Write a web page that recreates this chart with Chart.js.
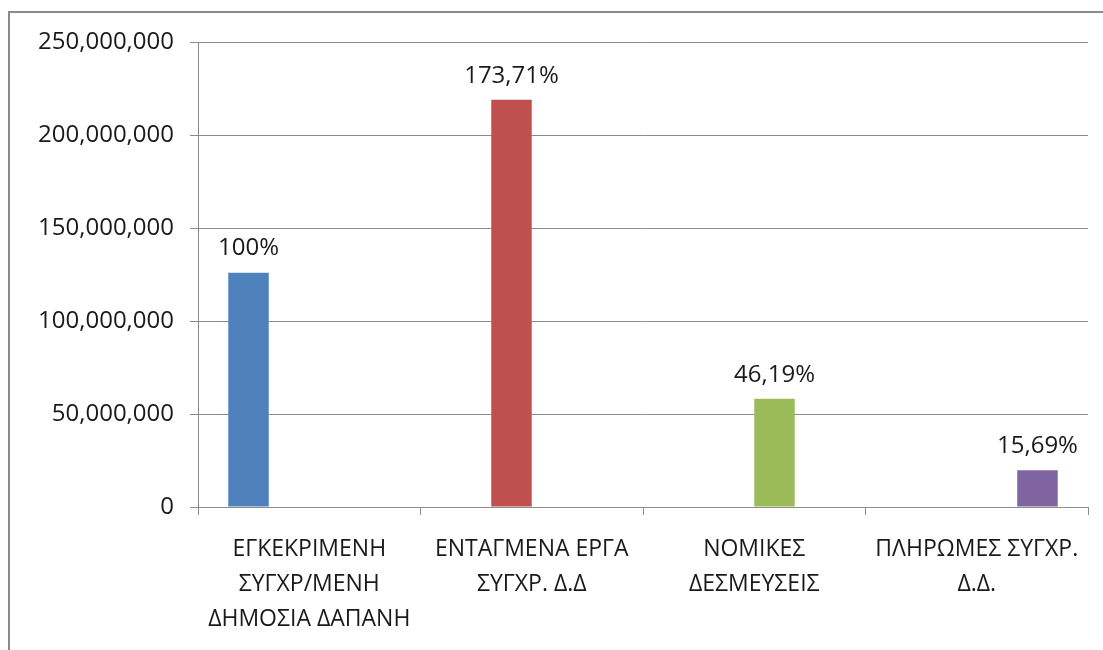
<!DOCTYPE html>
<html>
<head>
<meta charset="utf-8">
<script src="https://cdn.jsdelivr.net/npm/chart.js@4"></script>
<style>
  html, body { margin: 0; padding: 0; background: #fff; }
  #wrap { position: relative; width: 1103px; height: 650px; overflow: hidden; }
  #frame { position: absolute; left: 8px; top: 11px; width: 1200px; height: 800px; border: 2px solid #8a8a8a; box-sizing: border-box; }
  #chart { position: absolute; left: 0; top: 0; }
</style>
</head>
<body>
<div id="wrap">
  <div id="frame"></div>
  <canvas id="chart" width="1103" height="650"></canvas>
</div>
<script>
const categories = [
  ['ΕΓΚΕΚΡΙΜΕΝΗ', 'ΣΥΓΧΡ/ΜΕΝΗ', 'ΔΗΜΟΣΙΑ ΔΑΠΑΝΗ'],
  ['ΕΝΤΑΓΜΕΝΑ ΕΡΓΑ', 'ΣΥΓΧΡ. Δ.Δ'],
  ['ΝΟΜΙΚΕΣ', 'ΔΕΣΜΕΥΣΕΙΣ'],
  ['ΠΛΗΡΩΜΕΣ ΣΥΓΧΡ.', 'Δ.Δ.']
];
const values = [126000000, 218900000, 58200000, 19770000];
const percentLabels = ['100%', '173,71%', '46,19%', '15,69%'];
const colors = ['#4F81BD', '#C0504D', '#9BBB59', '#8064A2'];

const font = 'Open Sans';
const gridColor = '#8c8c8c';

// each series has a value in only one category, like the excel original
const datasets = values.map((v, i) => ({
  label: 'series' + i,
  data: categories.map((c, j) => j === i ? v : null),
  backgroundColor: colors[i],
  borderWidth: 0
}));

const pctPlugin = {
  id: 'pct',
  afterDatasetsDraw(chart) {
    const ctx = chart.ctx;
    ctx.save();
    ctx.font = '24px "' + font + '"';
    ctx.fillStyle = '#1a1a1a';
    ctx.textAlign = 'center';
    ctx.textBaseline = 'bottom';
    datasets.forEach((ds, i) => {
      const bar = chart.getDatasetMeta(i).data[i];
      ctx.fillText(percentLabels[i], bar.x, bar.y - 12);
    });
    ctx.restore();
  }
};

new Chart(document.getElementById('chart'), {
  type: 'bar',
  data: { labels: categories, datasets: datasets },
  plugins: [pctPlugin],
  options: {
    responsive: false,
    animation: false,
    layout: { padding: { top: 42, right: 15, left: 0, bottom: 0 } },
    plugins: { legend: { display: false }, tooltip: { enabled: false } },
    datasets: { bar: { categoryPercentage: 0.728, barPercentage: 1, skipNull: false } },
    scales: {
      x: {
        grid: { offset: true, drawOnChartArea: false, drawTicks: true, tickLength: 8, color: gridColor },
        border: { color: gridColor, width: 1 },
        ticks: { color: '#1a1a1a', font: { family: font, size: 23, lineHeight: 1.52 }, padding: 17, maxRotation: 0, autoSkip: false },
        afterFit(scale) { scale.height = 143; }
      },
      y: {
        min: 0, max: 250000000,
        ticks: {
          stepSize: 50000000, color: '#1a1a1a', padding: 16,
          font: { family: font, size: 24 },
          callback: v => v.toLocaleString('en-US')
        },
        grid: { color: gridColor, tickLength: 8 },
        border: { color: gridColor, width: 1 },
        afterFit(scale) { scale.width = 198; }
      }
    }
  }
});
</script>
</body>
</html>
